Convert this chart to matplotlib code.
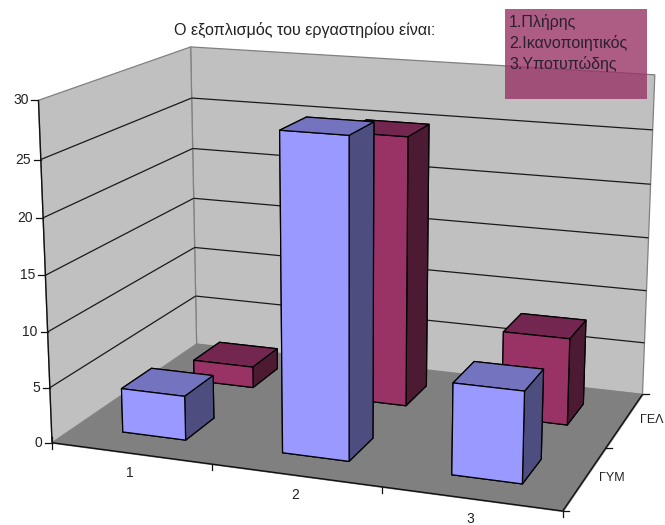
import numpy as np
import matplotlib
matplotlib.use('Agg')
import matplotlib.pyplot as plt
from matplotlib.lines import Line2D
from matplotlib.patches import Rectangle
from mpl_toolkits.mplot3d.art3d import Poly3DCollection, Line3DCollection

categories = [1, 2, 3]
series_names = ['ΓΥΜ', 'ΓΕΛ']
gym_values = [4, 28, 8]
gel_values = [2, 25, 8]
z_ticks = [0, 5, 10, 15, 20, 25, 30]
title = 'Ο εξοπλισμός του εργαστηρίου είναι:'
note_lines = ['1.Πλήρης', '2.Ικανοποιητικός', '3.Υποτυπώδης']

W, H = 665, 525
x0, x1 = 0.5, 3.5
y0, y1 = -0.5, 1.5
z0, z1 = 0, 30
bar_w, bar_d = 0.4, 0.4

# where the box corners sit in the reference, used to fit the excel-like camera
calib = [
    ((x0, y0, z0), (52, 442)), ((x0, y1, z0), (197, 344)),
    ((x1, y1, z0), (642, 394)), ((x1, y0, z0), (562, 510)),
    ((x0, y0, z1), (39, 100)), ((x0, y1, z1), (190, 47)),
    ((x1, y1, z1), (655, 75)), ((1.5, y0, z0), (212, 465)),
    ((2.5, y0, z0), (382, 488)), ((x1, 0.5, z0), (607, 448)),
]


def fit_camera(pairs):
    rows, rhs = [], []
    for (x, y, z), (u, v) in pairs:
        v = H - v
        rows.append([x, y, z, 1, 0, 0, 0, 0, -u*x, -u*y, -u*z])
        rhs.append(u)
        rows.append([0, 0, 0, 0, x, y, z, 1, -v*x, -v*y, -v*z])
        rhs.append(v)
    p = np.linalg.lstsq(np.array(rows, float), np.array(rhs, float), rcond=None)[0]
    return np.append(p, 1.0).reshape(3, 4)


P = fit_camera(calib)
M = np.vstack([P[0], P[1], [0, 0, 0, -1.0], P[2]])


def project(x, y, z):
    q = P @ np.array([x, y, z, 1.0])
    return q[0]/q[2], q[1]/q[2]


fig = plt.figure(figsize=(W/100, H/100), dpi=100)
plt.rcParams['font.family'] = ['Liberation Sans', 'DejaVu Sans']
ax = fig.add_axes([0, 0, 1, 1], projection='3d', computed_zorder=False)
ax.set_axis_off()
ax.get_proj = lambda: M
ax.apply_aspect = lambda position=None: None
ax.viewLim.set_points(np.array([[0, 0], [W, H]], float))

# walls and floor
wall_left = [(x0, y0, z0), (x0, y1, z0), (x0, y1, z1), (x0, y0, z1)]
wall_back = [(x0, y1, z0), (x1, y1, z0), (x1, y1, z1), (x0, y1, z1)]
floor = [(x0, y0, z0), (x1, y0, z0), (x1, y1, z0), (x0, y1, z0)]
ax.add_collection3d(Poly3DCollection([wall_left, wall_back], facecolor='#C0C0C0',
                                     edgecolor='#808080', linewidth=0.9, zorder=1))
ax.add_collection3d(Poly3DCollection([floor], facecolor='#808080',
                                     edgecolor='#808080', linewidth=0.9, zorder=1.5))

# gridlines run along left wall then back wall
grid_segs = []
for z in z_ticks[1:-1]:
    grid_segs.append([(x0, y0, z), (x0, y1, z)])
    grid_segs.append([(x0, y1, z), (x1, y1, z)])
ax.add_collection3d(Line3DCollection(grid_segs, colors='#1a1a1a', linewidths=0.9, zorder=2))

# axis lines
axis_segs = [[(x0, y0, z0), (x0, y0, z1)],
             [(x0, y0, z0), (x1, y0, z0)],
             [(x1, y0, z0), (x1, y1, z0)]]
ax.add_collection3d(Line3DCollection(axis_segs, colors='#111111', linewidths=1.0, zorder=3))

# bars, GEL row sits behind GYM row
face_gel = ['#993366', '#732650', '#993366', '#993366', '#993366', '#4D1A33']
face_gym = ['#9999FF', '#7373BF', '#9999FF', '#9999FF', '#9999FF', '#4D4D80']
for row, vals, faces, zo in [(1, gel_values, face_gel, 5), (0, gym_values, face_gym, 6)]:
    xs = np.array(categories, float) - bar_w/2
    ys = np.full(len(xs), row - bar_d/2)
    zs = np.zeros(len(xs))
    ax.bar3d(xs, ys, zs, bar_w, bar_d, vals, color=faces*len(xs), shade=False,
             edgecolor='black', linewidth=0.9, zorder=zo)

# ticks and labels are offset in screen space, excel draws them horizontal/vertical
def tick(px, py, dx, dy):
    fig.add_artist(Line2D([px, px+dx], [py, py+dy], color='#111111', lw=0.9,
                          transform=ax.transData))

for z in z_ticks:
    px, py = project(x0, y0, z)
    tick(px, py, -7, 0)
    fig.text(px-10, py, str(z), transform=ax.transData, ha='right', va='center',
             fontsize=10, color='#222222')
px, py = project(x0, y0, z0)
tick(px, py, 0, -6)
tick(px, py, 0, 6)

for xt in [x0+1, x0+2, x1]:
    px, py = project(xt, y0, z0)
    tick(px, py, 0, -6)
for cat in categories:
    px, py = project(cat, y0, z0)
    fig.text(px-1, py-20, str(cat), transform=ax.transData, ha='center', va='center',
             fontsize=10, color='#222222')

for yt in [y0, y0+1, y1]:
    px, py = project(x1, yt, z0)
    tick(px, py, 6, 0)
for row, name in enumerate(series_names):
    px, py = project(x1, row, z0)
    fig.text(px+27, py, name, transform=ax.transData, ha='center', va='center',
             fontsize=9, color='#222222')

fig.text(305, H-30, title, transform=ax.transData, ha='center', va='center',
         fontsize=11.6, color='#222222')

# the pasted note box is see through
fig.add_artist(Rectangle((505, H-99), 142, 90, facecolor='#993366', alpha=0.8,
                         edgecolor='none', transform=ax.transData))
for line, yp in zip(note_lines, [22, 43, 64]):
    fig.text(509, H-yp, line, transform=ax.transData, ha='left', va='center',
             fontsize=11.5, color='#2a2030')

fig.savefig('out.png', dpi=100)
